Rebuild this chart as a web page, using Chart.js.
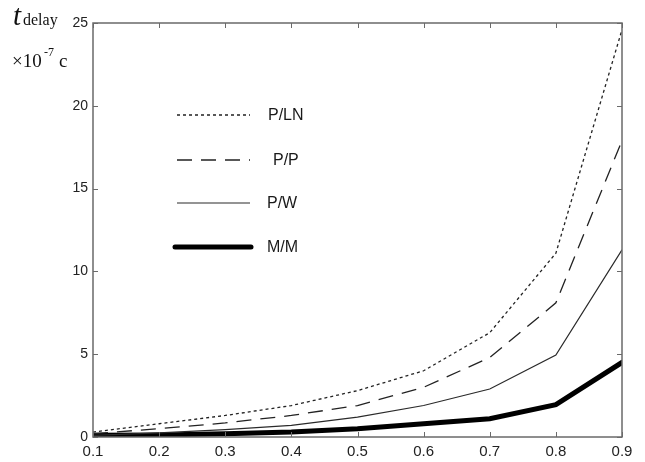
<!DOCTYPE html>
<html>
<head>
<meta charset="utf-8">
<script src="https://cdn.jsdelivr.net/npm/chart.js@4.4.1/dist/chart.umd.min.js"></script>
<style>
  html, body { margin: 0; padding: 0; background: #fff; }
  #wrap { width: 645px; height: 462px; }
</style>
</head>
<body>
<div id="wrap"><canvas id="delayChart" width="645" height="462"></canvas></div>
<script>
// load factor values on the x axis
const loads = [0.1, 0.2, 0.3, 0.4, 0.5, 0.6, 0.7, 0.8, 0.9];

// delay, x10^-7 c
const delayPLN = [0.3, 0.8, 1.3, 1.9, 2.8, 4.0, 6.3, 11.1, 24.6];
const delayPP  = [0.2, 0.5, 0.85, 1.3, 1.9, 3.0, 4.8, 8.1, 17.9];
const delayPW  = [0.1, 0.25, 0.45, 0.7, 1.2, 1.9, 2.9, 4.95, 11.3];
const delayMM  = [0.1, 0.12, 0.2, 0.3, 0.5, 0.8, 1.1, 1.95, 4.5];

const seriesNames = ['P/LN', 'P/P', 'P/W', 'M/M'];
const yTicks = [0, 5, 10, 15, 20, 25];

const AXIS_COLOR = '#6a6a6a';
const SANS = '"Liberation Sans", Arial, sans-serif';
const SERIF = '"Liberation Serif", "Times New Roman", serif';

function points(values) {
    return loads.map((x, i) => ({ x: x, y: values[i] }));
}

// legend entries drawn inside the plot, MATLAB style
const legendRows = [
    { y: 115, x0: 177, x1: 250, tx: 268 },
    { y: 160, x0: 177, x1: 250, tx: 273 },
    { y: 203, x0: 177, x1: 250, tx: 267 },
    { y: 247, x0: 175, x1: 251, tx: 267 }
];

const frameAndLabels = {
    id: 'frameAndLabels',
    afterDraw(chart) {
        const ctx = chart.ctx;
        const a = chart.chartArea;
        const xs = chart.scales.x;
        const ys = chart.scales.y;
        ctx.save();

        // box around the plot
        ctx.strokeStyle = AXIS_COLOR;
        ctx.lineWidth = 1.5;
        ctx.strokeRect(a.left, a.top, a.right - a.left, a.bottom - a.top);

        // inward tick marks on all four sides
        ctx.lineWidth = 1;
        const len = 5;
        ctx.beginPath();
        loads.forEach(v => {
            const px = Math.round(xs.getPixelForValue(v)) + 0.5;
            ctx.moveTo(px, a.bottom); ctx.lineTo(px, a.bottom - len);
            ctx.moveTo(px, a.top); ctx.lineTo(px, a.top + len);
        });
        yTicks.forEach(v => {
            const py = Math.round(ys.getPixelForValue(v)) + 0.5;
            ctx.moveTo(a.left, py); ctx.lineTo(a.left + len, py);
            ctx.moveTo(a.right, py); ctx.lineTo(a.right - len, py);
        });
        ctx.stroke();

        // legend
        chart.data.datasets.forEach((ds, i) => {
            const r = legendRows[i];
            ctx.strokeStyle = ds.borderColor;
            ctx.lineWidth = ds.borderWidth;
            ctx.lineCap = ds.borderCapStyle || 'butt';
            ctx.setLineDash(ds.borderDash || []);
            ctx.beginPath();
            ctx.moveTo(r.x0, r.y);
            ctx.lineTo(r.x1, r.y);
            ctx.stroke();
            ctx.setLineDash([]);
            ctx.fillStyle = '#1a1a1a';
            ctx.font = '16px ' + SANS;
            ctx.textBaseline = 'middle';
            ctx.textAlign = 'left';
            ctx.fillText(seriesNames[i], r.tx, r.y + 1);
        });

        // y axis title: t_delay, x10^-7 c
        ctx.fillStyle = '#111';
        ctx.textBaseline = 'alphabetic';
        ctx.font = 'italic 29px ' + SERIF;
        ctx.fillText('t', 13, 25);
        ctx.font = '16px ' + SERIF;
        ctx.fillText('delay', 23, 25);
        ctx.font = '19px ' + SERIF;
        ctx.fillText('\u00d710', 12, 67);
        ctx.font = '12px ' + SERIF;
        ctx.fillText('-7', 44, 56);
        ctx.font = '19px ' + SERIF;
        ctx.fillText('c', 59, 67);

        ctx.restore();
    }
};

new Chart(document.getElementById('delayChart'), {
    type: 'line',
    data: {
        datasets: [
            {
                label: seriesNames[0],
                data: points(delayPLN),
                borderColor: '#222',
                borderWidth: 1.3,
                borderDash: [3, 3]
            },
            {
                label: seriesNames[1],
                data: points(delayPP),
                borderColor: '#222',
                borderWidth: 1.3,
                borderDash: [15, 9]
            },
            {
                label: seriesNames[2],
                data: points(delayPW),
                borderColor: '#2a2a2a',
                borderWidth: 1.2
            },
            {
                label: seriesNames[3],
                data: points(delayMM),
                borderColor: '#000',
                borderWidth: 5,
                borderCapStyle: 'round'
            }
        ]
    },
    options: {
        responsive: false,
        animation: false,
        layout: { padding: { top: 23, right: 23, left: 0, bottom: 0 } },
        elements: {
            point: { radius: 0 },
            line: { tension: 0, fill: false }
        },
        plugins: {
            legend: { display: false },
            tooltip: { enabled: false }
        },
        scales: {
            x: {
                type: 'linear',
                min: 0.1,
                max: 0.9,
                afterFit: s => { s.height = 25; },
                afterBuildTicks: s => { s.ticks = loads.map(v => ({ value: v })); },
                grid: { display: false, drawTicks: false },
                border: { display: false },
                ticks: {
                    padding: 6,
                    color: '#222',
                    font: { family: SANS, size: 15 },
                    maxRotation: 0,
                    callback: v => Number(v).toFixed(1)
                }
            },
            y: {
                min: 0,
                max: 25,
                afterFit: s => { s.width = 93; },
                afterBuildTicks: s => { s.ticks = yTicks.map(v => ({ value: v })); },
                grid: { display: false, drawTicks: false },
                border: { display: false },
                ticks: {
                    padding: 5,
                    color: '#222',
                    font: { family: SANS, size: 14 }
                }
            }
        }
    },
    plugins: [frameAndLabels]
});
</script>
</body>
</html>
